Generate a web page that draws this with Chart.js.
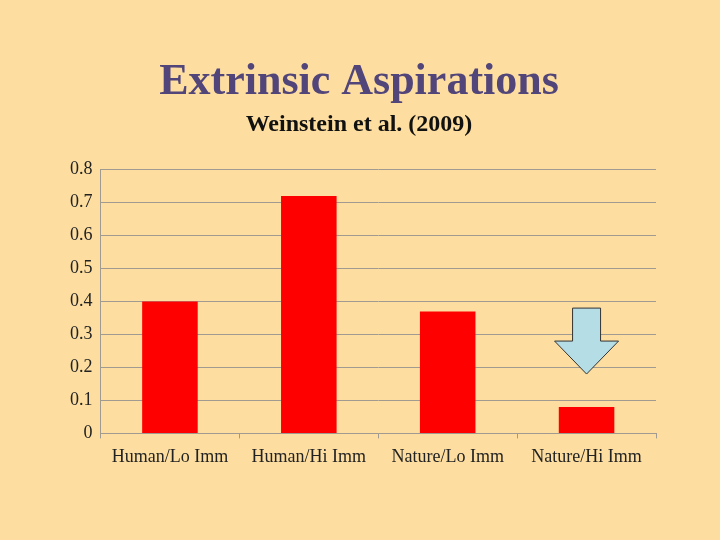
<!DOCTYPE html>
<html>
<head>
<meta charset="utf-8">
<script src="https://cdn.jsdelivr.net/npm/chart.js@4"></script>
<style>
  html, body { margin: 0; padding: 0; background: #fddea0; }
  #wrap { width: 720px; height: 540px; }
</style>
</head>
<body>
<div id="wrap"><canvas id="chart"></canvas></div>
<script>
const categories = ['Human/Lo Imm', 'Human/Hi Imm', 'Nature/Lo Imm', 'Nature/Hi Imm'];
const values = [0.40, 0.72, 0.37, 0.08];
const yTicks = [0, 0.1, 0.2, 0.3, 0.4, 0.5, 0.6, 0.7, 0.8];

// blue down arrow over the last bar
const arrowPlugin = {
    id: 'arrow',
    afterDatasetsDraw(chart) {
        const { ctx, scales } = chart;
        const cx = scales.x.getPixelForValue(3);
        const yTop = scales.y.getPixelForValue(0.38);
        const yMid = scales.y.getPixelForValue(0.28);
        const yTip = scales.y.getPixelForValue(0.18);
        ctx.save();
        ctx.beginPath();
        ctx.moveTo(cx - 14, yTop);
        ctx.lineTo(cx + 14, yTop);
        ctx.lineTo(cx + 14, yMid);
        ctx.lineTo(cx + 32, yMid);
        ctx.lineTo(cx, yTip);
        ctx.lineTo(cx - 32, yMid);
        ctx.lineTo(cx - 14, yMid);
        ctx.closePath();
        ctx.fillStyle = '#b4dde6';
        ctx.fill();
        ctx.strokeStyle = '#333';
        ctx.lineWidth = 1;
        ctx.stroke();
        ctx.restore();
    }
};

new Chart(document.getElementById('chart').getContext('2d'), {
    type: 'bar',
    data: {
        labels: categories,
        datasets: [{
            data: values,
            backgroundColor: '#ff0000',
            barPercentage: 0.4,
            categoryPercentage: 1.0
        }]
    },
    options: {
        responsive: true,
        maintainAspectRatio: false,
        animation: false,
        layout: { padding: { left: 62, right: 64, top: 56, bottom: 64 } },
        plugins: {
            legend: { display: false },
            tooltip: { enabled: false },
            title: {
                display: true,
                text: 'Extrinsic Aspirations',
                color: '#514579',
                font: { family: 'Liberation Serif', size: 44, weight: 'bold' },
                padding: { top: 0, bottom: 2 }
            },
            subtitle: {
                display: true,
                text: 'Weinstein et al. (2009)',
                color: '#111',
                font: { family: 'Liberation Serif', size: 24, weight: 'bold' },
                padding: { bottom: 30 }
            }
        },
        scales: {
            y: {
                min: 0,
                max: 0.8,
                afterBuildTicks: axis => { axis.ticks = yTicks.map(v => ({ value: v })); },
                ticks: {
                    color: '#222',
                    font: { family: 'Liberation Serif', size: 18 },
                    padding: 8
                },
                grid: { color: '#a09a90', lineWidth: 1, drawTicks: false },
                border: { color: '#a09a90' }
            },
            x: {
                ticks: {
                    color: '#222',
                    font: { family: 'Liberation Serif', size: 18 },
                    padding: 8,
                    maxRotation: 0
                },
                grid: { drawOnChartArea: false, color: '#a09a90', tickLength: 5 },
                border: { color: '#a09a90' }
            }
        }
    },
    plugins: [arrowPlugin]
});
</script>
</body>
</html>
